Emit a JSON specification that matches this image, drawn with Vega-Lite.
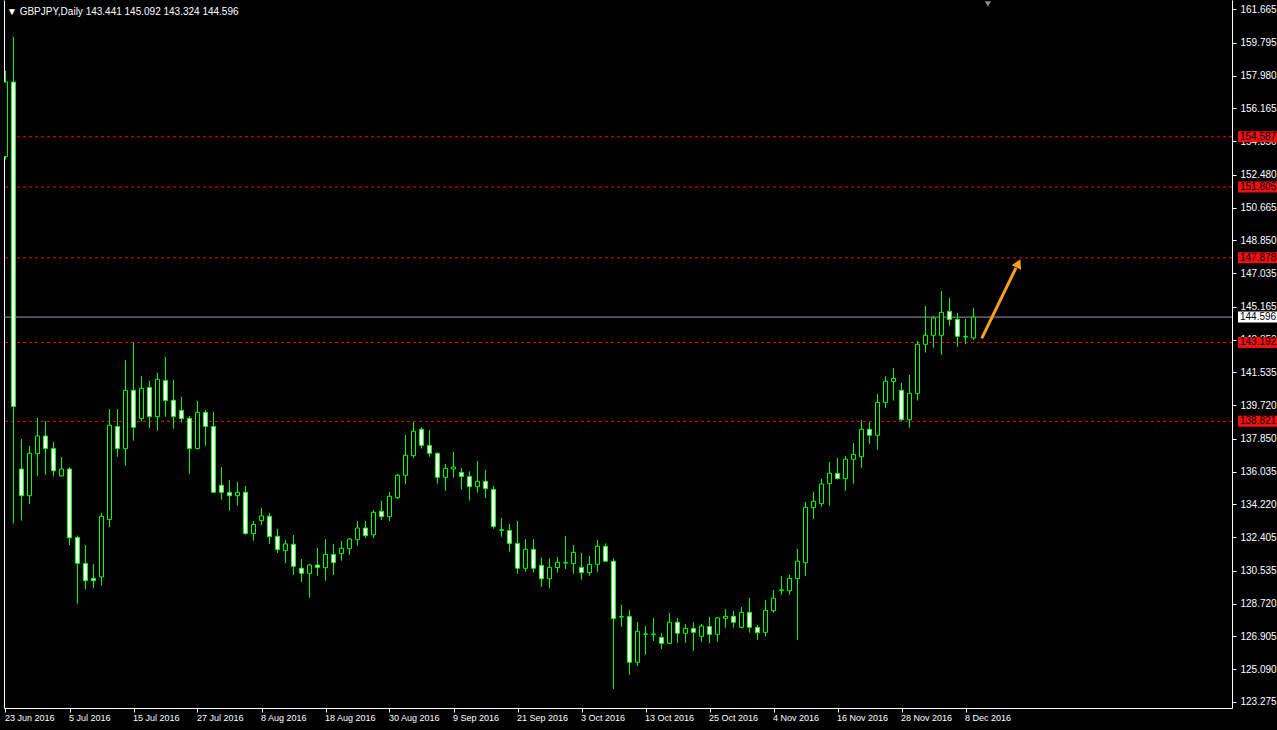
{
  "$schema": "https://vega.github.io/schema/vega-lite/v6.json",
  "width": 1228,
  "height": 708,
  "autosize": "none",
  "padding": {"left": 4, "top": 0, "right": 45, "bottom": 22},
  "background": "#000000",
  "view": {"stroke": null},
  "config": {"font": "Liberation Sans", "scale": {"continuousPadding": 0}},
  "title": {
    "text": "▼ GBPJPY,Daily  143.441 145.092 143.324 144.596",
    "anchor": "start", "frame": "group", "orient": "top", "offset": 0,
    "baseline": "bottom", "dy": 27, "dx": 3,
    "color": "#FFFFFF", "fontSize": 10, "font": "Liberation Sans", "fontWeight": "normal"
  },
  "datasets": {
    "candles": [
      {"i":0,"o":153.49,"h":158.24,"l":153.32,"c":157.62},
      {"i":1,"o":157.62,"h":160.12,"l":133.17,"c":139.64},
      {"i":2,"o":136.18,"h":137.84,"l":133.32,"c":134.70},
      {"i":3,"o":134.70,"h":137.46,"l":134.23,"c":137.05},
      {"i":4,"o":137.03,"h":139.01,"l":135.78,"c":138.01},
      {"i":5,"o":138.01,"h":138.83,"l":135.87,"c":137.31},
      {"i":6,"o":137.31,"h":137.67,"l":135.76,"c":136.08},
      {"i":7,"o":135.80,"h":136.84,"l":135.76,"c":136.18},
      {"i":8,"o":136.18,"h":136.29,"l":131.96,"c":132.37},
      {"i":9,"o":132.39,"h":132.49,"l":128.72,"c":130.95},
      {"i":10,"o":130.95,"h":131.96,"l":129.52,"c":129.99},
      {"i":11,"o":130.12,"h":130.90,"l":129.59,"c":129.99},
      {"i":12,"o":130.20,"h":133.75,"l":129.72,"c":133.56},
      {"i":13,"o":133.38,"h":139.50,"l":132.96,"c":138.60},
      {"i":14,"o":138.54,"h":139.50,"l":136.86,"c":137.31},
      {"i":15,"o":137.31,"h":142.22,"l":136.37,"c":140.54},
      {"i":16,"o":140.54,"h":143.18,"l":137.75,"c":138.49},
      {"i":17,"o":138.97,"h":141.33,"l":138.82,"c":140.65},
      {"i":18,"o":140.70,"h":141.06,"l":138.45,"c":139.08},
      {"i":19,"o":139.08,"h":141.50,"l":138.30,"c":141.15},
      {"i":20,"o":141.09,"h":142.39,"l":139.08,"c":139.97},
      {"i":21,"o":139.99,"h":141.11,"l":138.41,"c":139.08},
      {"i":22,"o":139.43,"h":140.17,"l":138.75,"c":138.97},
      {"i":23,"o":138.99,"h":139.12,"l":135.92,"c":137.31},
      {"i":24,"o":137.31,"h":139.95,"l":137.27,"c":139.32},
      {"i":25,"o":139.32,"h":139.45,"l":137.47,"c":138.54},
      {"i":26,"o":138.54,"h":139.34,"l":134.87,"c":134.89},
      {"i":27,"o":135.28,"h":136.29,"l":134.48,"c":134.89},
      {"i":28,"o":134.89,"h":135.57,"l":133.87,"c":134.70},
      {"i":29,"o":134.70,"h":135.46,"l":134.15,"c":134.89},
      {"i":30,"o":134.89,"h":135.24,"l":132.54,"c":132.60},
      {"i":31,"o":132.60,"h":133.30,"l":132.21,"c":133.11},
      {"i":32,"o":133.32,"h":134.02,"l":133.08,"c":133.58},
      {"i":33,"o":133.56,"h":133.74,"l":132.03,"c":132.43},
      {"i":34,"o":132.45,"h":132.86,"l":131.53,"c":131.71},
      {"i":35,"o":131.66,"h":132.25,"l":130.97,"c":132.03},
      {"i":36,"o":132.01,"h":132.52,"l":130.31,"c":130.79},
      {"i":37,"o":130.68,"h":131.19,"l":129.92,"c":130.40},
      {"i":38,"o":130.40,"h":130.92,"l":129.05,"c":130.86},
      {"i":39,"o":130.86,"h":131.80,"l":130.27,"c":130.73},
      {"i":40,"o":130.71,"h":132.30,"l":129.99,"c":131.45},
      {"i":41,"o":131.45,"h":132.03,"l":130.31,"c":130.99},
      {"i":42,"o":131.49,"h":132.19,"l":131.10,"c":131.79},
      {"i":43,"o":131.77,"h":132.36,"l":131.42,"c":132.30},
      {"i":44,"o":132.27,"h":133.30,"l":131.93,"c":132.91},
      {"i":45,"o":132.91,"h":133.30,"l":132.36,"c":132.49},
      {"i":46,"o":132.54,"h":133.91,"l":132.36,"c":133.78},
      {"i":47,"o":133.84,"h":134.41,"l":133.36,"c":133.54},
      {"i":48,"o":133.54,"h":134.91,"l":133.30,"c":134.67},
      {"i":49,"o":134.59,"h":135.90,"l":134.52,"c":135.83},
      {"i":50,"o":135.83,"h":138.06,"l":135.35,"c":136.94},
      {"i":51,"o":136.92,"h":138.80,"l":136.81,"c":138.27},
      {"i":52,"o":138.38,"h":138.49,"l":137.31,"c":137.49},
      {"i":53,"o":137.49,"h":138.34,"l":136.86,"c":137.05},
      {"i":54,"o":137.05,"h":137.10,"l":135.37,"c":135.72},
      {"i":55,"o":135.72,"h":136.46,"l":134.98,"c":136.22},
      {"i":56,"o":136.18,"h":137.12,"l":135.70,"c":136.29},
      {"i":57,"o":135.99,"h":136.24,"l":135.04,"c":135.77},
      {"i":58,"o":135.77,"h":136.05,"l":134.43,"c":135.20},
      {"i":59,"o":135.20,"h":136.62,"l":134.87,"c":135.50},
      {"i":60,"o":135.50,"h":136.13,"l":134.57,"c":135.09},
      {"i":61,"o":135.05,"h":135.24,"l":132.87,"c":132.99},
      {"i":62,"o":132.78,"h":133.47,"l":132.43,"c":132.82},
      {"i":63,"o":132.78,"h":133.13,"l":131.60,"c":132.06},
      {"i":64,"o":132.06,"h":133.30,"l":130.38,"c":130.68},
      {"i":65,"o":130.68,"h":132.30,"l":130.49,"c":131.73},
      {"i":66,"o":131.73,"h":132.30,"l":130.44,"c":130.68},
      {"i":67,"o":130.84,"h":131.27,"l":129.66,"c":130.10},
      {"i":68,"o":130.10,"h":131.23,"l":129.57,"c":130.73},
      {"i":69,"o":130.72,"h":131.30,"l":130.44,"c":131.01},
      {"i":70,"o":130.97,"h":132.47,"l":130.64,"c":131.01},
      {"i":71,"o":130.94,"h":131.97,"l":130.38,"c":131.56},
      {"i":72,"o":130.73,"h":131.53,"l":130.05,"c":130.44},
      {"i":73,"o":130.44,"h":131.36,"l":130.27,"c":130.90},
      {"i":74,"o":130.90,"h":132.25,"l":130.49,"c":131.90},
      {"i":75,"o":131.90,"h":132.06,"l":131.05,"c":131.07},
      {"i":76,"o":131.07,"h":131.23,"l":123.99,"c":127.89},
      {"i":77,"o":127.98,"h":128.65,"l":127.45,"c":128.00},
      {"i":78,"o":128.00,"h":128.37,"l":124.79,"c":125.47},
      {"i":79,"o":125.47,"h":127.70,"l":125.27,"c":127.19},
      {"i":80,"o":127.02,"h":127.48,"l":125.89,"c":127.04},
      {"i":81,"o":127.00,"h":127.93,"l":126.65,"c":127.04},
      {"i":82,"o":126.85,"h":127.08,"l":126.21,"c":126.52},
      {"i":83,"o":126.52,"h":128.20,"l":126.47,"c":127.69},
      {"i":84,"o":127.69,"h":127.93,"l":126.56,"c":127.08},
      {"i":85,"o":127.08,"h":127.59,"l":126.56,"c":127.35},
      {"i":86,"o":127.35,"h":127.69,"l":126.10,"c":127.13},
      {"i":87,"o":126.91,"h":127.59,"l":126.61,"c":127.48},
      {"i":88,"o":127.46,"h":127.98,"l":126.54,"c":127.02},
      {"i":89,"o":127.02,"h":127.98,"l":126.61,"c":127.93},
      {"i":90,"o":127.91,"h":128.42,"l":127.39,"c":128.02},
      {"i":91,"o":128.02,"h":128.31,"l":127.39,"c":127.69},
      {"i":92,"o":127.41,"h":128.53,"l":127.35,"c":128.24},
      {"i":93,"o":128.24,"h":129.03,"l":127.11,"c":127.41},
      {"i":94,"o":127.41,"h":127.54,"l":126.71,"c":127.11},
      {"i":95,"o":127.13,"h":128.92,"l":126.90,"c":128.35},
      {"i":96,"o":128.33,"h":129.48,"l":128.22,"c":129.02},
      {"i":97,"o":129.44,"h":130.25,"l":129.22,"c":129.48},
      {"i":98,"o":129.44,"h":130.33,"l":129.22,"c":130.12},
      {"i":99,"o":130.11,"h":131.75,"l":126.71,"c":131.07},
      {"i":100,"o":130.99,"h":134.35,"l":130.25,"c":134.06},
      {"i":101,"o":134.04,"h":134.92,"l":133.41,"c":134.39},
      {"i":102,"o":134.26,"h":135.63,"l":134.09,"c":135.35},
      {"i":103,"o":135.37,"h":136.57,"l":134.15,"c":135.94},
      {"i":104,"o":135.94,"h":136.79,"l":135.61,"c":135.65},
      {"i":105,"o":135.65,"h":136.90,"l":134.98,"c":136.72},
      {"i":106,"o":136.72,"h":137.62,"l":135.37,"c":136.99},
      {"i":107,"o":136.86,"h":138.90,"l":136.25,"c":138.38},
      {"i":108,"o":138.38,"h":138.79,"l":137.58,"c":138.05},
      {"i":109,"o":138.05,"h":140.34,"l":137.25,"c":139.87},
      {"i":110,"o":139.87,"h":141.32,"l":139.56,"c":141.04},
      {"i":111,"o":141.04,"h":141.78,"l":139.97,"c":141.20},
      {"i":112,"o":140.54,"h":140.95,"l":138.85,"c":138.91},
      {"i":113,"o":138.91,"h":141.39,"l":138.47,"c":140.37},
      {"i":114,"o":140.37,"h":143.27,"l":139.97,"c":143.09},
      {"i":115,"o":143.09,"h":145.21,"l":142.63,"c":143.59},
      {"i":116,"o":143.59,"h":144.66,"l":142.90,"c":144.55},
      {"i":117,"o":143.59,"h":146.04,"l":142.52,"c":144.86},
      {"i":118,"o":144.92,"h":145.66,"l":144.12,"c":144.47},
      {"i":119,"o":144.47,"h":144.82,"l":142.96,"c":143.53},
      {"i":120,"o":143.49,"h":144.49,"l":143.09,"c":143.53},
      {"i":121,"o":143.441,"h":145.092,"l":143.324,"c":144.596}
    ],
    "levels": [
      {"price":154.587,"type":"level"},
      {"price":151.805,"type":"level"},
      {"price":147.878,"type":"level"},
      {"price":143.192,"type":"level"},
      {"price":138.821,"type":"level"},
      {"price":144.596,"type":"bid"}
    ],
    "arrow": [{"x1":122.03,"p1":143.42,"x2":126.31,"p2":147.32}],
    "arrowhead": [{"x":126.61,"p":147.57}],
    "marker": [{"x":122.8,"p":161.94}]
  },
  "resolve": {"axis": {"y": "independent"}},
  "layer": [
    {
      "data": {"name": "levels"},
      "transform": [{"filter": "datum.type == 'level'"}],
      "mark": {"type": "rule", "color": "#E8100C", "strokeWidth": 1, "strokeDash": [3, 3]},
      "encoding": {
        "y": {"field": "price", "type": "quantitative",
              "scale": {"domain": [122.939, 162.164], "nice": false, "zero": false, "padding": 0},
              "axis": {"orient": "left", "labels": false, "ticks": false, "grid": false, "title": null, "domainColor": "#FFFFFF"}}
      }
    },
    {
      "data": {"name": "levels"},
      "transform": [{"filter": "datum.type == 'bid'"}],
      "mark": {"type": "rule", "color": "#9A9AA8", "strokeWidth": 1},
      "encoding": {
        "y": {"field": "price", "type": "quantitative",
              "scale": {"domain": [122.939, 162.164], "nice": false, "zero": false, "padding": 0}, "axis": null}
      }
    },
    {
      "data": {"name": "candles"},
      "mark": {"type": "rule", "color": "#00FF00", "strokeWidth": 1, "clip": true},
      "encoding": {
        "x": {"field": "i", "type": "quantitative",
              "scale": {"domain": [-0.1875, 153.3125], "nice": false, "zero": false, "padding": 0},
              "axis": {
                "values": [0, 8, 16, 24, 32, 40, 48, 56, 64, 72, 80, 88, 96, 104, 112, 120],
                "labelExpr": "['23 Jun 2016','5 Jul 2016','15 Jul 2016','27 Jul 2016','8 Aug 2016','18 Aug 2016','30 Aug 2016','9 Sep 2016','21 Sep 2016','3 Oct 2016','13 Oct 2016','25 Oct 2016','4 Nov 2016','16 Nov 2016','28 Nov 2016','8 Dec 2016'][round(datum.value/8)]",
                "labelAlign": "left", "labelColor": "#FFFFFF", "labelFontSize": 9, "labelFont": "Liberation Sans",
                "labelPadding": 1, "labelOverlap": false, "labelFlush": false, "labelOffset": -1,
                "tickColor": "#FFFFFF", "tickSize": 4, "domainColor": "#FFFFFF", "grid": false, "title": null
              }},
        "y": {"field": "l", "type": "quantitative",
              "scale": {"domain": [122.939, 162.164], "nice": false, "zero": false, "padding": 0},
              "axis": {
                "orient": "right",
                "values": [161.665, 159.795, 157.98, 156.165, 154.35, 152.48, 150.665, 148.85, 147.035, 145.165, 143.35, 141.535, 139.72, 137.85, 136.035, 134.22, 132.405, 130.535, 128.72, 126.905, 125.09, 123.275],
                "format": ".3f", "labelColor": "#FFFFFF", "labelFontSize": 10, "labelFont": "Liberation Sans",
                "labelPadding": 4, "labelOverlap": false, "labelFlush": false, "labelBaseline": "middle",
                "tickColor": "#FFFFFF", "tickSize": 4, "domainColor": "#FFFFFF", "grid": false, "title": null, "zindex": 0
              }},
        "y2": {"field": "h"}
      }
    },
    {
      "data": {"name": "candles"},
      "mark": {"type": "bar", "orient": "vertical", "width": 4, "stroke": "#00FF00", "strokeWidth": 1, "clip": true},
      "encoding": {
        "x": {"field": "i", "type": "quantitative",
              "scale": {"domain": [-0.1875, 153.3125], "nice": false, "zero": false, "padding": 0}, "axis": {"title": null}},
        "y": {"field": "o", "type": "quantitative",
              "scale": {"domain": [122.939, 162.164], "nice": false, "zero": false, "padding": 0}, "axis": null},
        "y2": {"field": "c"},
        "fill": {"condition": {"test": "datum.c >= datum.o", "value": "#000000"}, "value": "#FFFFFF"}
      }
    },
    {
      "data": {"name": "arrow"},
      "mark": {"type": "rule", "color": "#F7A11A", "strokeWidth": 3},
      "encoding": {
        "x": {"field": "x1", "type": "quantitative",
              "scale": {"domain": [-0.1875, 153.3125], "nice": false, "zero": false, "padding": 0}, "axis": {"title": null}},
        "x2": {"field": "x2"},
        "y": {"field": "p1", "type": "quantitative",
              "scale": {"domain": [122.939, 162.164], "nice": false, "zero": false, "padding": 0}, "axis": null},
        "y2": {"field": "p2"}
      }
    },
    {
      "data": {"name": "arrowhead"},
      "mark": {"type": "point", "shape": "triangle-up", "filled": true, "color": "#F7A11A", "size": 110, "angle": 26, "opacity": 1},
      "encoding": {
        "x": {"field": "x", "type": "quantitative",
              "scale": {"domain": [-0.1875, 153.3125], "nice": false, "zero": false, "padding": 0}, "axis": {"title": null}},
        "y": {"field": "p", "type": "quantitative",
              "scale": {"domain": [122.939, 162.164], "nice": false, "zero": false, "padding": 0}, "axis": null}
      }
    },
    {
      "data": {"name": "marker"},
      "mark": {"type": "point", "shape": "triangle-down", "filled": true, "color": "#8A8A8A", "size": 40, "opacity": 1},
      "encoding": {
        "x": {"field": "x", "type": "quantitative",
              "scale": {"domain": [-0.1875, 153.3125], "nice": false, "zero": false, "padding": 0}, "axis": {"title": null}},
        "y": {"field": "p", "type": "quantitative",
              "scale": {"domain": [122.939, 162.164], "nice": false, "zero": false, "padding": 0}, "axis": null}
      }
    },
    {
      "data": {"name": "levels"},
      "mark": {"type": "bar", "orient": "horizontal", "height": 11},
      "encoding": {
        "x": {"datum": 154.06, "type": "quantitative",
              "scale": {"domain": [-0.1875, 153.3125], "nice": false, "zero": false, "padding": 0}, "axis": {"title": null}},
        "x2": {"datum": 158.94},
        "y": {"field": "price", "type": "quantitative",
              "scale": {"domain": [122.939, 162.164], "nice": false, "zero": false, "padding": 0}, "axis": null},
        "color": {"field": "type", "type": "nominal",
                  "scale": {"domain": ["level", "bid"], "range": ["#F01010", "#FFFFFF"]}, "legend": null}
      }
    },
    {
      "data": {"name": "levels"},
      "mark": {"type": "text", "align": "left", "baseline": "middle", "color": "#000000", "fontSize": 10, "font": "Liberation Sans"},
      "encoding": {
        "x": {"datum": 154.31, "type": "quantitative",
              "scale": {"domain": [-0.1875, 153.3125], "nice": false, "zero": false, "padding": 0}, "axis": {"title": null}},
        "y": {"field": "price", "type": "quantitative",
              "scale": {"domain": [122.939, 162.164], "nice": false, "zero": false, "padding": 0}, "axis": null},
        "text": {"field": "price", "type": "quantitative", "format": ".3f"}
      }
    }
  ]
}
